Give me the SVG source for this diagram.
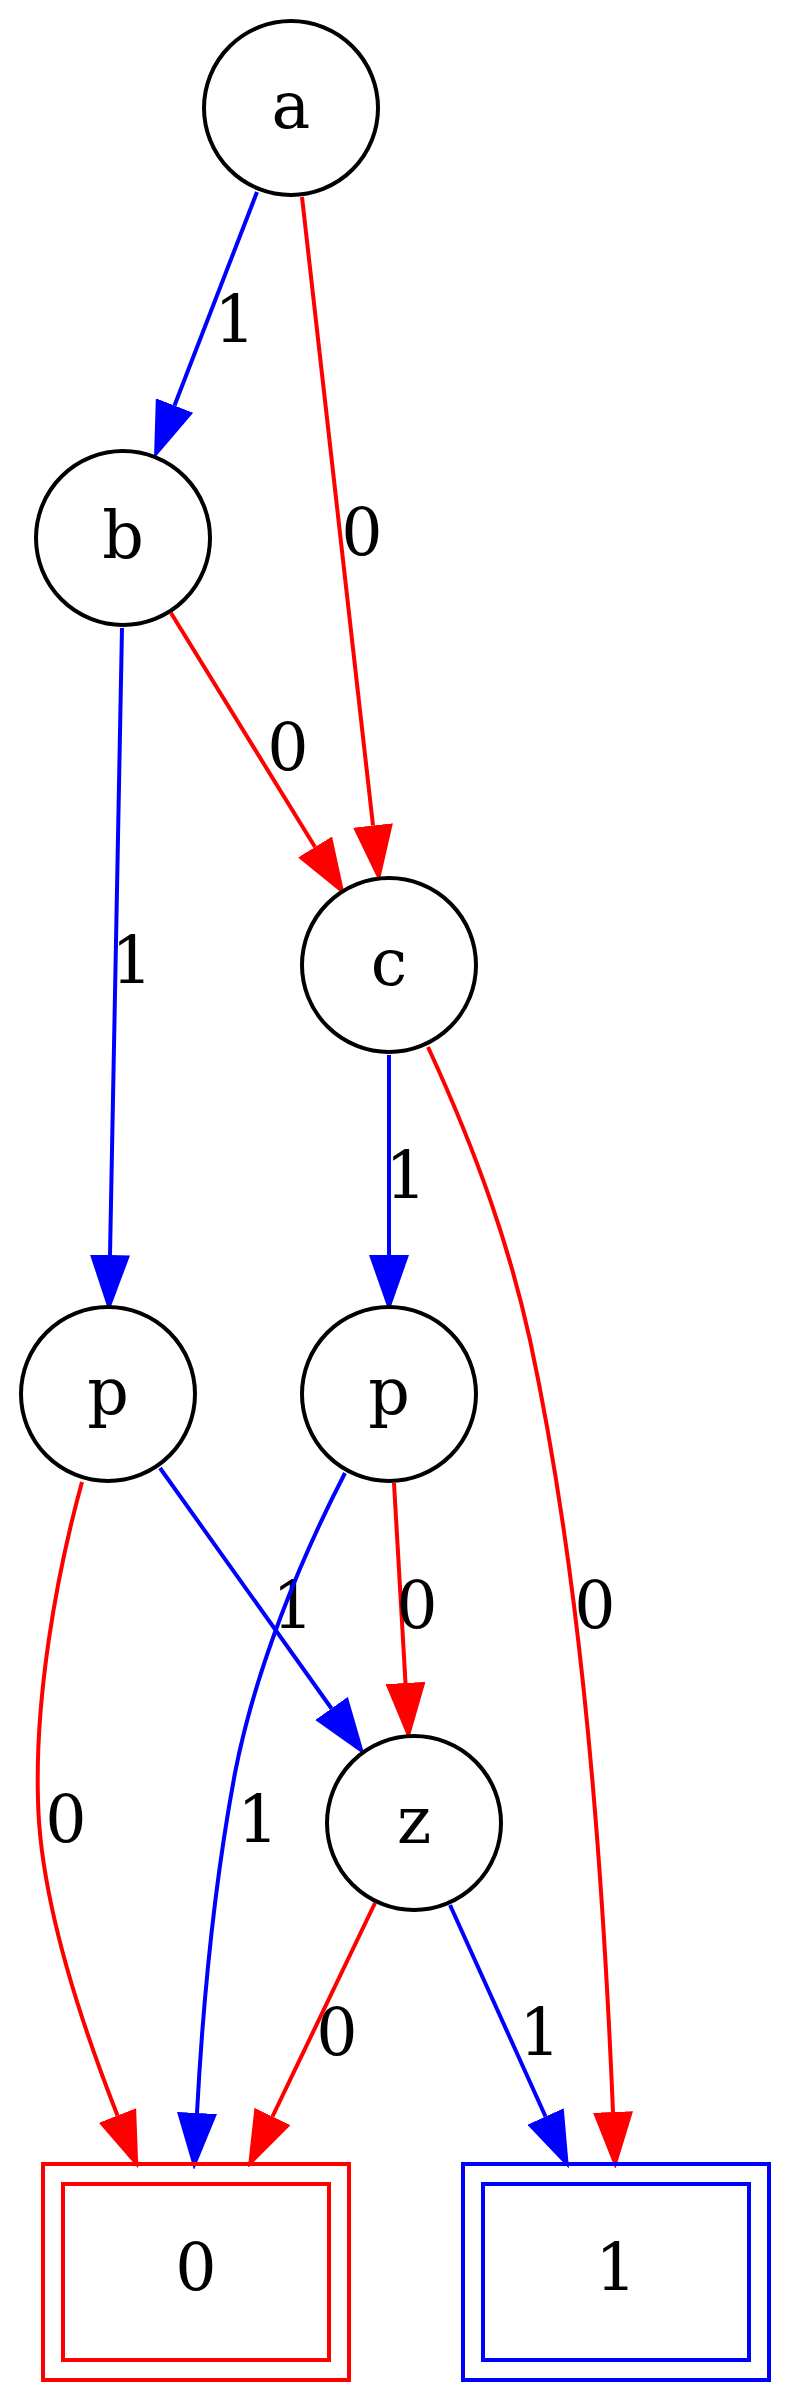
<svg xmlns="http://www.w3.org/2000/svg" width="789" height="2400" viewBox="0 0 789 2400">
<style>
.node circle{fill:#fff;stroke:#000;stroke-width:4}
.t{font-family:"DejaVu Serif","Liberation Serif",serif;font-size:65px;text-anchor:middle;fill:#000}
.e{fill:none;stroke-width:4}
.r{stroke:#ff0000}
.b{stroke:#0000ff}
.box{fill:none;stroke-width:4}
</style>
<defs>
<marker id="ar" markerUnits="userSpaceOnUse" viewBox="0 0 56 40" refX="0" refY="20" markerWidth="56" markerHeight="40" orient="auto"><path d="M0,0 L57,20 L0,40 z" fill="#ff0000"/></marker>
<marker id="ab" markerUnits="userSpaceOnUse" viewBox="0 0 56 40" refX="0" refY="20" markerWidth="56" markerHeight="40" orient="auto"><path d="M0,0 L57,20 L0,40 z" fill="#0000ff"/></marker>
</defs>
<rect width="789" height="2400" fill="#fff"/>
<g id="edges">
<path class="e b" d="M257,192 L174.5,405.5" marker-end="url(#ab)"/>
<text class="t" x="235" y="342">1</text>
<path class="e r" d="M302,197 L373,825.5" marker-end="url(#ar)"/>
<text class="t" x="362" y="555">0</text>
<path class="e r" d="M171,613 L315,847" marker-end="url(#ar)"/>
<text class="t" x="288" y="770">0</text>
<path class="e b" d="M122,628 L110,1255" marker-end="url(#ab)"/>
<text class="t" x="132" y="983">1</text>
<path class="e b" d="M389,1055 L389,1255" marker-end="url(#ab)"/>
<text class="t" x="406" y="1198">1</text>
<path class="e r" d="M428,1047 C480,1160 510,1250 530,1340 C575,1550 600,1800 613,2112" marker-end="url(#ar)"/>
<text class="t" x="595" y="1628">0</text>
<path class="e b" d="M160,1468 L331.5,1708.5" marker-end="url(#ab)"/>
<text class="t" x="293" y="1628">1</text>
<path class="e r" d="M394,1483 L405.5,1683" marker-end="url(#ar)"/>
<text class="t" x="417" y="1628">0</text>
<path class="e r" d="M82,1482 C55,1580 35,1700 38,1800 C40,1900 80,2020 117.5,2115.5" marker-end="url(#ar)"/>
<text class="t" x="66" y="1842">0</text>
<path class="e b" d="M345,1473 C300,1560 255,1670 235,1773 C215,1880 203,2000 197,2113" marker-end="url(#ab)"/>
<text class="t" x="258" y="1842">1</text>
<path class="e r" d="M375,1903 L272.5,2116.5" marker-end="url(#ar)"/>
<text class="t" x="337" y="2055">0</text>
<path class="e b" d="M450,1905 L545.5,2116.5" marker-end="url(#ab)"/>
<text class="t" x="540" y="2055">1</text>
</g>
<g id="node-a" class="node"><circle cx="291" cy="108" r="87"/><text class="t" x="291" y="128">a</text></g>
<g id="node-b" class="node"><circle cx="123" cy="538" r="87"/><text class="t" x="123" y="558">b</text></g>
<g id="node-c" class="node"><circle cx="389" cy="965" r="87"/><text class="t" x="389" y="985">c</text></g>
<g id="node-p1" class="node"><circle cx="108" cy="1394" r="87"/><text class="t" x="108" y="1414">p</text></g>
<g id="node-p2" class="node"><circle cx="389" cy="1394" r="87"/><text class="t" x="389" y="1414">p</text></g>
<g id="node-z" class="node"><circle cx="414" cy="1823" r="87"/><text class="t" x="414" y="1843">z</text></g>
<g id="node-0"><rect class="box" x="43" y="2164" width="306" height="216" stroke="#ff0000"/><rect class="box" x="63" y="2184" width="266" height="176" stroke="#ff0000"/><text class="t" x="196" y="2290">0</text></g>
<g id="node-1"><rect class="box" x="463" y="2164" width="306" height="216" stroke="#0000ff"/><rect class="box" x="483" y="2184" width="266" height="176" stroke="#0000ff"/><text class="t" x="616" y="2290">1</text></g>
</svg>
